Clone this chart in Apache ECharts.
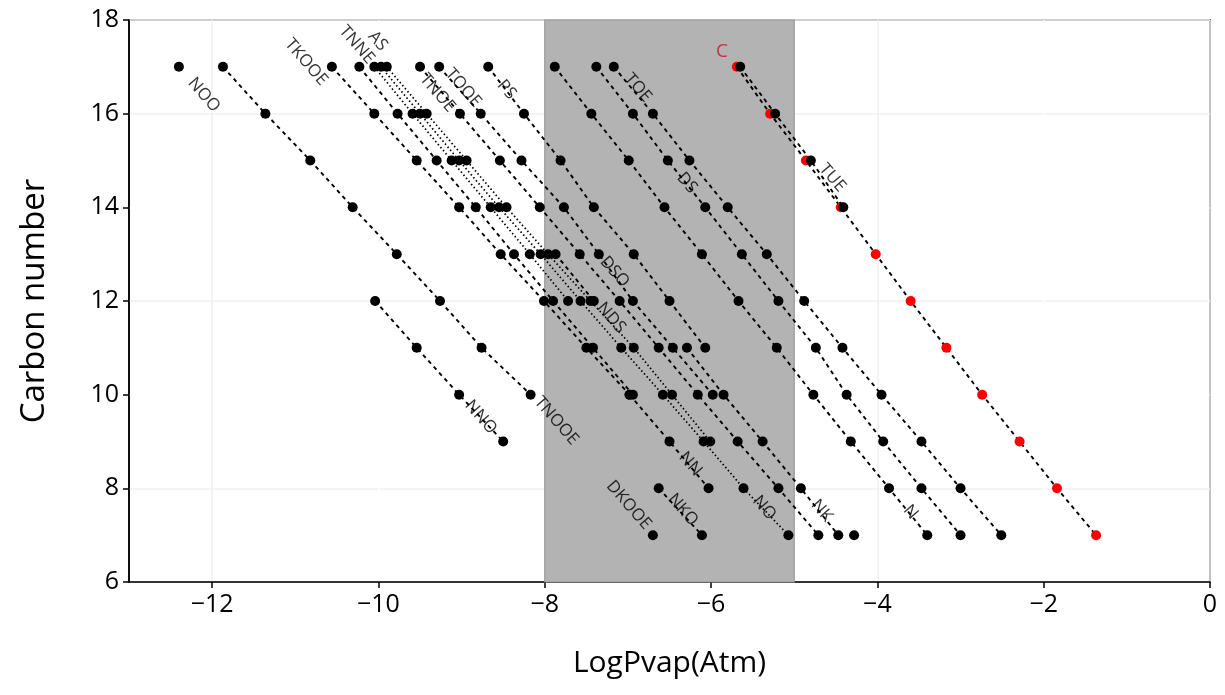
<!DOCTYPE html>
<html><head><meta charset="utf-8">
<script src="https://cdn.jsdelivr.net/npm/echarts@6/dist/echarts.min.js"></script>
<style>html,body{margin:0;padding:0;background:#fff}#c{width:1225px;height:695px}</style>
</head><body><div id="c"></div>
<script>
// LogPvap values listed from the highest carbon number downward
const NOO_start = 17,   NOO   = [-12.40];
const TNOOE_start = 17, TNOOE = [-11.87,-11.36,-10.82,-10.31,-9.78,-9.26,-8.76,-8.17];
const NNO_start = 12,   NNO   = [-10.04,-9.54,-9.03,-8.50];
const TKOOE_start = 17, TKOOE = [-10.56,-10.05,-9.54,-9.03,-8.53,-8.01,-7.50,-6.98];
const NN_start = 10,    NN    = [-6.98,-6.50,-6.03];
const TNNE_start = 17,  TNNE  = [-10.23,-9.77,-9.30,-8.83,-8.37,-7.90,-7.42,-6.94];
const AS_start = 17,    AS    = [-10.05,-9.59,-9.12,-8.65,-8.18,-7.72];
const NO_start = 17,    NO    = [-9.97,-9.50,-9.03,-8.55,-8.05,-7.57,-7.08,-6.58,-6.09,-5.61,-5.07];
const NDS_start = 17,   NDS   = [-9.90,-9.42,-8.94,-8.46,-7.96,-7.45,-6.93,-6.47,-6.01,null,-4.28];
const TNOE_start = 17,  TNOE  = [-9.50,-9.02,-8.54,-8.06,-7.58,-7.10,-6.63,-6.16,-5.68,-5.19,-4.71];
const TOOE_start = 17,  TOOE  = [-9.27,-8.77,-8.28,-7.77,-7.35,-6.94,-6.46,-5.98];
const PS_start = 17,    PS    = [-8.68,-8.25,-7.81,-7.41,-6.93,-6.50,-6.07];
const DSO_start = 13,   DSO   = [-7.87,-7.41];
const NK_start = 11,    NK    = [-6.29,-5.85,-5.38,-4.92,-4.47];
const N_start = 17,     N     = [-7.88,-7.44,-6.99,-6.56,-6.11,-5.67,-5.21,-4.77,-4.32,-3.86,-3.40];
const DS_start = 17,    DS    = [-7.38,-6.94,-6.52,-6.07,-5.63,-5.19,-4.74,-4.37,-3.93,-3.47,-3.00];
const TOE_start = 17,   TOE   = [-7.17,-6.70,-6.26,-5.80,-5.33,-4.88,-4.42,-3.95,-3.47,-3.00,-2.51];
const C_start = 17,     C     = [-5.69,-5.29,-4.86,-4.44,-4.02,-3.60,-3.17,-2.74,-2.29,-1.84,-1.37];
const TUE_start = 17,   TUE   = [-5.65,-5.23,-4.80,-4.41];
const DKOOE_start = 7,  DKOOE = [-6.70];
const NKO_start = 8,    NKO   = [-6.63,-6.11];

// label names and anchors (LogPvap, carbon number)
const labelNames = ['NOO','TKOOE','TNNE','AS','TNOE','TOOE','PS','TOE','TUE','DS','DSO','NDS','NNO','TNOOE','DKOOE','NKO','NN','NO','NK','N'];
const labelX     = [-12.10,-10.87,-10.26,-10.01,-9.29,-8.98,-8.46,-6.88,-4.54,-6.29,-7.16,-7.20,-8.77,-7.86,-6.99,-6.34,-6.25,-5.36,-4.67,-3.60];
const labelY     = [16.40,17.10,17.47,17.55,16.44,16.55,16.51,16.55,14.63,14.52,12.62,11.64,9.52,9.44,7.64,7.54,8.52,7.58,7.52,7.49];
const redLabel = 'C', redLabelX = -5.87, redLabelY = 17.32;

// shaded window
const bandFrom = -8, bandTo = -5;

// axes
const xMin = -13, xMax = 0, yMin = 6, yMax = 18;
const xTicks = [-12,-10,-8,-6,-4,-2,0];
const yTicks = [6,8,10,12,14,16,18];

function pts(start, vals) {
  return vals.map((v, i) => v === null ? ['-', start - i] : [v, start - i]);
}
const FONT = '"Open Sans", "Noto Sans", sans-serif';
const dashed = [4, 4];
const dotted = [1.5, 2.5];

const defs = [
  ['NOO', NOO_start, NOO, dashed],
  ['TNOOE', TNOOE_start, TNOOE, dashed],
  ['NNO', NNO_start, NNO, dashed],
  ['TKOOE', TKOOE_start, TKOOE, dashed],
  ['NN', NN_start, NN, dashed],
  ['TNNE', TNNE_start, TNNE, dashed],
  ['AS', AS_start, AS, dotted],
  ['NO', NO_start, NO, dotted],
  ['NDS', NDS_start, NDS, dotted],
  ['TNOE', TNOE_start, TNOE, dashed],
  ['TOOE', TOOE_start, TOOE, dashed],
  ['PS', PS_start, PS, dashed],
  ['DSO', DSO_start, DSO, dashed],
  ['NK', NK_start, NK, dashed],
  ['N', N_start, N, dashed],
  ['DS', DS_start, DS, dashed],
  ['TOE', TOE_start, TOE, dashed],
  ['DKOOE', DKOOE_start, DKOOE, dashed],
  ['NKO', NKO_start, NKO, dashed],
];

const series = [];
series.push({
  type: 'line', data: [], z: 1, silent: true,
  markArea: {
    silent: true,
    itemStyle: { color: '#b3b3b3', borderColor: '#9a9a9a', borderWidth: 1.2 },
    data: [[{ xAxis: bandFrom }, { xAxis: bandTo }]]
  }
});
defs.forEach(([name, start, vals, dash]) => {
  series.push({
    name, type: 'line', data: pts(start, vals), z: 3,
    symbol: 'circle', symbolSize: 10, showSymbol: true, showAllSymbol: true,
    itemStyle: { color: '#000' },
    lineStyle: { color: '#000', width: dash === dotted ? 1.7 : 1.9, type: dash },
    connectNulls: false, animation: false
  });
});
series.push({
  name: 'C', type: 'line', data: pts(C_start, C), z: 4,
  symbol: 'circle', symbolSize: 10,
  itemStyle: { color: '#ff0000' },
  lineStyle: { color: '#000', width: 1.9, type: dashed }, animation: false
});
series.push({
  name: 'TUE', type: 'line', data: pts(TUE_start, TUE), z: 5,
  symbol: 'circle', symbolSize: 10,
  itemStyle: { color: '#000' },
  lineStyle: { color: '#000', width: 1.9, type: dashed }, animation: false
});
series.push({
  type: 'scatter', z: 6, silent: true, symbolSize: 0, animation: false,
  data: labelNames.map((n, i) => [labelX[i], labelY[i], n]),
  label: {
    show: true, position: 'inside', rotate: -49,
    formatter: p => p.data[2], color: '#000', fontSize: 17, fontFamily: FONT
  }
});
series.push({
  type: 'scatter', z: 6, silent: true, symbolSize: 0, animation: false,
  data: [[redLabelX, redLabelY, redLabel]],
  label: { show: true, position: 'inside', formatter: p => p.data[2], color: '#c8102e', fontSize: 19, fontFamily: FONT }
});

const fmt = v => (v < 0 ? '\u2212' + Math.abs(v) : String(v));

const chart = echarts.init(document.getElementById('c'), null, { renderer: 'canvas' });
chart.setOption({
  backgroundColor: '#fff',
  animation: false,
  grid: { left: 129, right: 15, top: 20, bottom: 113, show: true, borderColor: '#000', borderWidth: 1.5, backgroundColor: 'transparent' },
  xAxis: {
    type: 'value', min: xMin, max: xMax, interval: 1,
    name: 'LogPvap(Atm)', nameLocation: 'middle', nameGap: 66,
    nameTextStyle: { fontSize: 30, fontFamily: FONT, color: '#000' },
    axisLine: { show: true, onZero: false, lineStyle: { color: '#000', width: 1.5 } },
    axisTick: { show: true, customValues: xTicks, length: 6, lineStyle: { color: '#000', width: 1.5 } },
    axisLabel: { customValues: xTicks, formatter: v => (v % 2 === 0 ? fmt(v) : ''), fontSize: 25, fontFamily: FONT, color: '#000', margin: 10 },
    splitLine: { show: true, lineStyle: { color: ['#f0f0f0', '#ffffff'], width: 1.5 } }
  },
  yAxis: {
    type: 'value', min: yMin, max: yMax, interval: 1,
    name: 'Carbon number', nameLocation: 'middle', nameGap: 78,
    nameTextStyle: { fontSize: 33, fontFamily: FONT, color: '#000' },
    axisLine: { show: true, onZero: false, lineStyle: { color: '#000', width: 1.5 } },
    axisTick: { show: true, customValues: yTicks, length: 6, lineStyle: { color: '#000', width: 1.5 } },
    axisLabel: { customValues: yTicks, formatter: v => (v % 2 === 0 ? String(v) : ''), fontSize: 25, fontFamily: FONT, color: '#000', margin: 10 },
    splitLine: { show: true, lineStyle: { color: ['#ffffff', '#f0f0f0'], width: 1.5 } }
  },
  series
});
</script></body></html>
